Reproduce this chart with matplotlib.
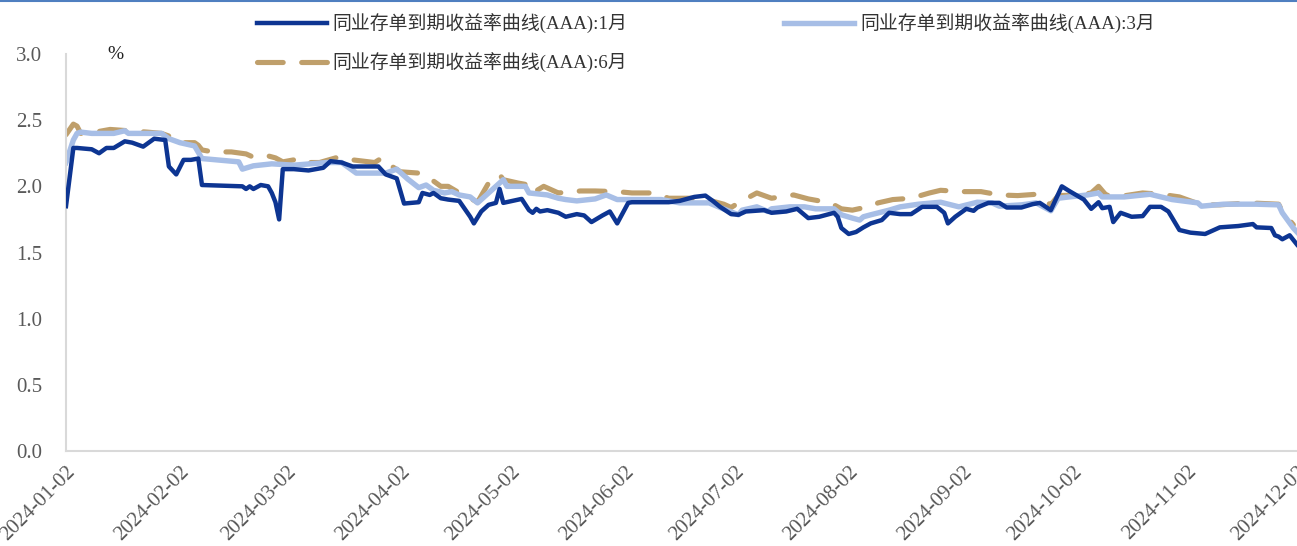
import matplotlib
matplotlib.use("Agg")
import matplotlib.pyplot as plt
import pandas as pd
from matplotlib.lines import Line2D

plt.rcParams["font.family"] = ["Liberation Serif", "Noto Sans CJK SC"]

# 1M yield (AAA NCD)
dates_1m = [
    "2024-01-02", "2024-01-04", "2024-01-05", "2024-01-09", "2024-01-11", "2024-01-13",
    "2024-01-15", "2024-01-18", "2024-01-20", "2024-01-23", "2024-01-26", "2024-01-29",
    "2024-01-30", "2024-02-01", "2024-02-03", "2024-02-05", "2024-02-07", "2024-02-08",
    "2024-02-19", "2024-02-20", "2024-02-21", "2024-02-22", "2024-02-24", "2024-02-26",
    "2024-02-27", "2024-02-28", "2024-02-29", "2024-03-01", "2024-03-04", "2024-03-08",
    "2024-03-12", "2024-03-14", "2024-03-17", "2024-03-20", "2024-03-27", "2024-03-29",
    "2024-04-01", "2024-04-03", "2024-04-07", "2024-04-08", "2024-04-10", "2024-04-11",
    "2024-04-13", "2024-04-15", "2024-04-18", "2024-04-21", "2024-04-22", "2024-04-24",
    "2024-04-26", "2024-04-28", "2024-04-29", "2024-04-30", "2024-05-05", "2024-05-07",
    "2024-05-08", "2024-05-09", "2024-05-10", "2024-05-12", "2024-05-15", "2024-05-17",
    "2024-05-20", "2024-05-22", "2024-05-24", "2024-05-27", "2024-05-29", "2024-05-31",
    "2024-06-03", "2024-06-04", "2024-06-14", "2024-06-17", "2024-06-21", "2024-06-24",
    "2024-06-26", "2024-06-28", "2024-07-01", "2024-07-03", "2024-07-05", "2024-07-10",
    "2024-07-12", "2024-07-16", "2024-07-19", "2024-07-22", "2024-07-25", "2024-07-29",
    "2024-07-30", "2024-07-31", "2024-08-02", "2024-08-04", "2024-08-06", "2024-08-08",
    "2024-08-11", "2024-08-13", "2024-08-16", "2024-08-19", "2024-08-22", "2024-08-26",
    "2024-08-28", "2024-08-29", "2024-08-31", "2024-09-03", "2024-09-05", "2024-09-06",
    "2024-09-09", "2024-09-12", "2024-09-14", "2024-09-18", "2024-09-21", "2024-09-23",
    "2024-09-26", "2024-09-29", "2024-10-01", "2024-10-05", "2024-10-07", "2024-10-09",
    "2024-10-10", "2024-10-12", "2024-10-13", "2024-10-15", "2024-10-18", "2024-10-21",
    "2024-10-23", "2024-10-26", "2024-10-28", "2024-10-31", "2024-11-03", "2024-11-07",
    "2024-11-11", "2024-11-16", "2024-11-20", "2024-11-21", "2024-11-25", "2024-11-26",
    "2024-11-27", "2024-11-28", "2024-11-30", "2024-12-02",
]
yield_1m = [
    1.85, 2.29, 2.29, 2.28, 2.25, 2.29,
    2.29, 2.34, 2.33, 2.30, 2.36, 2.35,
    2.15, 2.09, 2.20, 2.20, 2.21, 2.01,
    2.00, 1.98, 2.00, 1.98, 2.01, 2.00,
    1.95, 1.88, 1.75, 2.13, 2.13, 2.12,
    2.14, 2.19, 2.18, 2.15, 2.15, 2.09,
    2.06, 1.87, 1.88, 1.95, 1.935, 1.95,
    1.91, 1.90, 1.89, 1.77, 1.72, 1.81,
    1.86, 1.875, 1.98, 1.875, 1.905, 1.82,
    1.80, 1.83, 1.81, 1.82, 1.80, 1.77,
    1.79, 1.78, 1.73, 1.78, 1.81, 1.72,
    1.875, 1.88, 1.88, 1.89, 1.92, 1.93,
    1.89, 1.845, 1.79, 1.785, 1.81, 1.82,
    1.80, 1.81, 1.83, 1.76, 1.77, 1.80,
    1.77, 1.685, 1.64, 1.655, 1.69, 1.72,
    1.745, 1.80, 1.79, 1.79, 1.845, 1.845,
    1.80, 1.72, 1.77, 1.83, 1.815, 1.84,
    1.875, 1.875, 1.84, 1.84, 1.865, 1.875,
    1.82, 2.00, 1.965, 1.90, 1.83, 1.88,
    1.835, 1.845, 1.73, 1.80, 1.77, 1.775,
    1.845, 1.845, 1.81, 1.67, 1.65, 1.64,
    1.69, 1.70, 1.715, 1.69, 1.685, 1.63,
    1.62, 1.60, 1.63, 1.56,
]

# 3M yield
dates_3m = [
    "2024-01-02", "2024-01-04", "2024-01-05", "2024-01-06", "2024-01-09", "2024-01-15",
    "2024-01-18", "2024-01-19", "2024-01-28", "2024-01-30", "2024-02-02", "2024-02-06",
    "2024-02-08", "2024-02-18", "2024-02-19", "2024-02-22", "2024-02-27", "2024-03-04",
    "2024-03-13", "2024-03-17", "2024-03-21", "2024-03-29", "2024-04-01", "2024-04-04",
    "2024-04-07", "2024-04-09", "2024-04-11", "2024-04-14", "2024-04-16", "2024-04-18",
    "2024-04-21", "2024-04-23", "2024-04-26", "2024-04-30", "2024-05-01", "2024-05-06",
    "2024-05-07", "2024-05-12", "2024-05-15", "2024-05-17", "2024-05-20", "2024-05-25",
    "2024-05-28", "2024-05-31", "2024-06-12", "2024-06-17", "2024-06-25", "2024-06-28",
    "2024-07-03", "2024-07-04", "2024-07-08", "2024-07-11", "2024-07-12", "2024-07-17",
    "2024-07-21", "2024-07-24", "2024-07-29", "2024-07-31", "2024-08-03", "2024-08-05",
    "2024-08-06", "2024-08-08", "2024-08-13", "2024-08-16", "2024-08-21", "2024-08-27",
    "2024-09-01", "2024-09-06", "2024-09-10", "2024-09-12", "2024-09-18", "2024-09-22",
    "2024-09-24", "2024-09-26", "2024-09-28", "2024-10-01", "2024-10-06", "2024-10-09",
    "2024-10-10", "2024-10-16", "2024-10-23", "2024-10-29", "2024-11-05", "2024-11-06",
    "2024-11-12", "2024-11-21", "2024-11-27", "2024-11-28", "2024-12-01", "2024-12-02",
]
yield_3m = [
    2.18, 2.35, 2.40, 2.41, 2.40, 2.40,
    2.42, 2.40, 2.40, 2.36, 2.33, 2.305,
    2.21, 2.185, 2.13, 2.155, 2.17, 2.16,
    2.18, 2.18, 2.10, 2.10, 2.13, 2.055,
    1.99, 2.01, 1.97, 1.95, 1.96, 1.935,
    1.92, 1.875, 1.95, 2.05, 2.00, 2.00,
    1.95, 1.935, 1.91, 1.90, 1.89, 1.905,
    1.935, 1.90, 1.90, 1.875, 1.875, 1.84,
    1.785, 1.82, 1.845, 1.81, 1.83, 1.845,
    1.845, 1.83, 1.83, 1.785, 1.76, 1.745,
    1.77, 1.785, 1.82, 1.845, 1.865, 1.88,
    1.845, 1.88, 1.875, 1.85, 1.86, 1.875,
    1.845, 1.815, 1.91, 1.92, 1.935, 1.95,
    1.92, 1.92, 1.94, 1.90, 1.875, 1.85,
    1.865, 1.865, 1.86, 1.80, 1.685, 1.655,
]

# 6M yield
dates_6m = [
    "2024-01-02", "2024-01-04", "2024-01-05", "2024-01-06", "2024-01-10", "2024-01-14",
    "2024-01-19", "2024-01-24", "2024-01-28", "2024-01-30", "2024-02-01", "2024-02-03",
    "2024-02-06", "2024-02-07", "2024-02-08", "2024-02-11", "2024-02-16", "2024-02-20",
    "2024-02-22", "2024-02-26", "2024-02-28", "2024-03-01", "2024-03-06", "2024-03-08",
    "2024-03-11", "2024-03-16", "2024-03-20", "2024-03-26", "2024-03-28", "2024-03-29",
    "2024-04-02", "2024-04-07", "2024-04-11", "2024-04-13", "2024-04-15", "2024-04-19",
    "2024-04-21", "2024-04-23", "2024-04-26", "2024-04-29", "2024-04-30", "2024-05-04",
    "2024-05-07", "2024-05-08", "2024-05-11", "2024-05-15", "2024-05-21", "2024-05-25",
    "2024-05-31", "2024-06-04", "2024-06-10", "2024-06-14", "2024-06-19", "2024-06-23",
    "2024-06-29", "2024-07-01", "2024-07-03", "2024-07-08", "2024-07-12", "2024-07-18",
    "2024-07-22", "2024-07-28", "2024-07-31", "2024-08-03", "2024-08-08", "2024-08-10",
    "2024-08-14", "2024-08-19", "2024-08-24", "2024-08-27", "2024-09-02", "2024-09-07",
    "2024-09-12", "2024-09-17", "2024-09-22", "2024-09-26", "2024-09-28", "2024-10-04",
    "2024-10-07", "2024-10-09", "2024-10-11", "2024-10-14", "2024-10-21", "2024-10-26",
    "2024-10-31", "2024-11-06", "2024-11-11", "2024-11-19", "2024-11-27", "2024-11-28",
    "2024-12-01",
]
yield_6m = [
    2.39, 2.47, 2.455, 2.40, 2.41, 2.43,
    2.42, 2.41, 2.40, 2.38, 2.335, 2.33,
    2.33, 2.31, 2.275, 2.26, 2.26, 2.245,
    2.22, 2.23, 2.215, 2.185, 2.21, 2.18,
    2.18, 2.22, 2.20, 2.18, 2.215, 2.18,
    2.11, 2.10, 2.04, 2.00, 2.00, 1.935,
    1.91, 1.88, 2.025, 2.09, 2.05, 2.025,
    2.01, 1.95, 2.00, 1.95, 1.965, 1.965,
    1.96, 1.95, 1.95, 1.91, 1.91, 1.91,
    1.865, 1.84, 1.875, 1.95, 1.91, 1.935,
    1.905, 1.875, 1.83, 1.82, 1.85, 1.875,
    1.90, 1.91, 1.95, 1.97, 1.96, 1.96,
    1.935, 1.93, 1.94, 1.86, 1.93, 1.935,
    1.95, 2.00, 1.935, 1.92, 1.95, 1.94,
    1.92, 1.86, 1.86, 1.875, 1.865, 1.81,
    1.71,
]

labels = ["同业存单到期收益率曲线(AAA):1月",
          "同业存单到期收益率曲线(AAA):3月",
          "同业存单到期收益率曲线(AAA):6月"]
tick_dates = ["2024-01-02", "2024-02-02", "2024-03-02", "2024-04-02", "2024-05-02",
              "2024-06-02", "2024-07-02", "2024-08-02", "2024-09-02", "2024-10-02",
              "2024-11-02", "2024-12-02"]
y_ticks = [0.0, 0.5, 1.0, 1.5, 2.0, 2.5, 3.0]

c_dark = "#0d3592"
c_light = "#a7bee6"
c_tan = "#bf9f6b"
c_text = "#595959"

fig = plt.figure(figsize=(12.97, 5.46), dpi=100)
ax = fig.add_axes([66 / 1297, 95 / 546, 1 - 66 / 1297, 397 / 546])

l1, = ax.plot(pd.to_datetime(dates_1m), yield_1m, color=c_dark, lw=3.2,
              solid_joinstyle="round", zorder=3)
l3, = ax.plot(pd.to_datetime(dates_3m), yield_3m, color=c_light, lw=3.9,
              solid_joinstyle="round", zorder=2)
l6, = ax.plot(pd.to_datetime(dates_6m), yield_6m, color=c_tan, lw=3.7,
              dashes=(5, 3.6), dash_capstyle="round", zorder=1)

ax.set_xlim(pd.Timestamp(tick_dates[0]), pd.Timestamp(tick_dates[-1]))
ax.set_ylim(0, 3.0)
ax.set_yticks(y_ticks)
ax.set_yticklabels([f"{v:.1f}" for v in y_ticks])
ax.set_xticks(pd.to_datetime(tick_dates))
ax.set_xticklabels(tick_dates, rotation=45, ha="right", rotation_mode="anchor")
ax.tick_params(axis="both", length=0, labelsize=15, labelcolor=c_text)
ax.tick_params(axis="y", pad=17)
ax.tick_params(axis="x", pad=8)

for s in ["top", "right"]:
    ax.spines[s].set_visible(False)
for s in ["left", "bottom"]:
    ax.spines[s].set_color("#d9d9d9")
    ax.spines[s].set_linewidth(1.5)

ax.text(0.034, 1.0, "%", transform=ax.transAxes, fontsize=14, color="#222222",
        ha="left", va="center")

leg = ax.legend([l1, l6, l3], [labels[0], labels[2], labels[1]], ncol=2,
                loc="upper left", bbox_to_anchor=(0.1415, 1.145), frameon=False,
                fontsize=13.6, handlelength=3.7, columnspacing=8.3,
                labelspacing=1.0, handletextpad=0.3)
for t in leg.get_texts():
    t.set_color("#333333")

fig.add_artist(Line2D([0, 1], [0.999, 0.999], transform=fig.transFigure,
                      color="#4f7fc0", lw=1.5))

fig.savefig("out.png", dpi=100)
